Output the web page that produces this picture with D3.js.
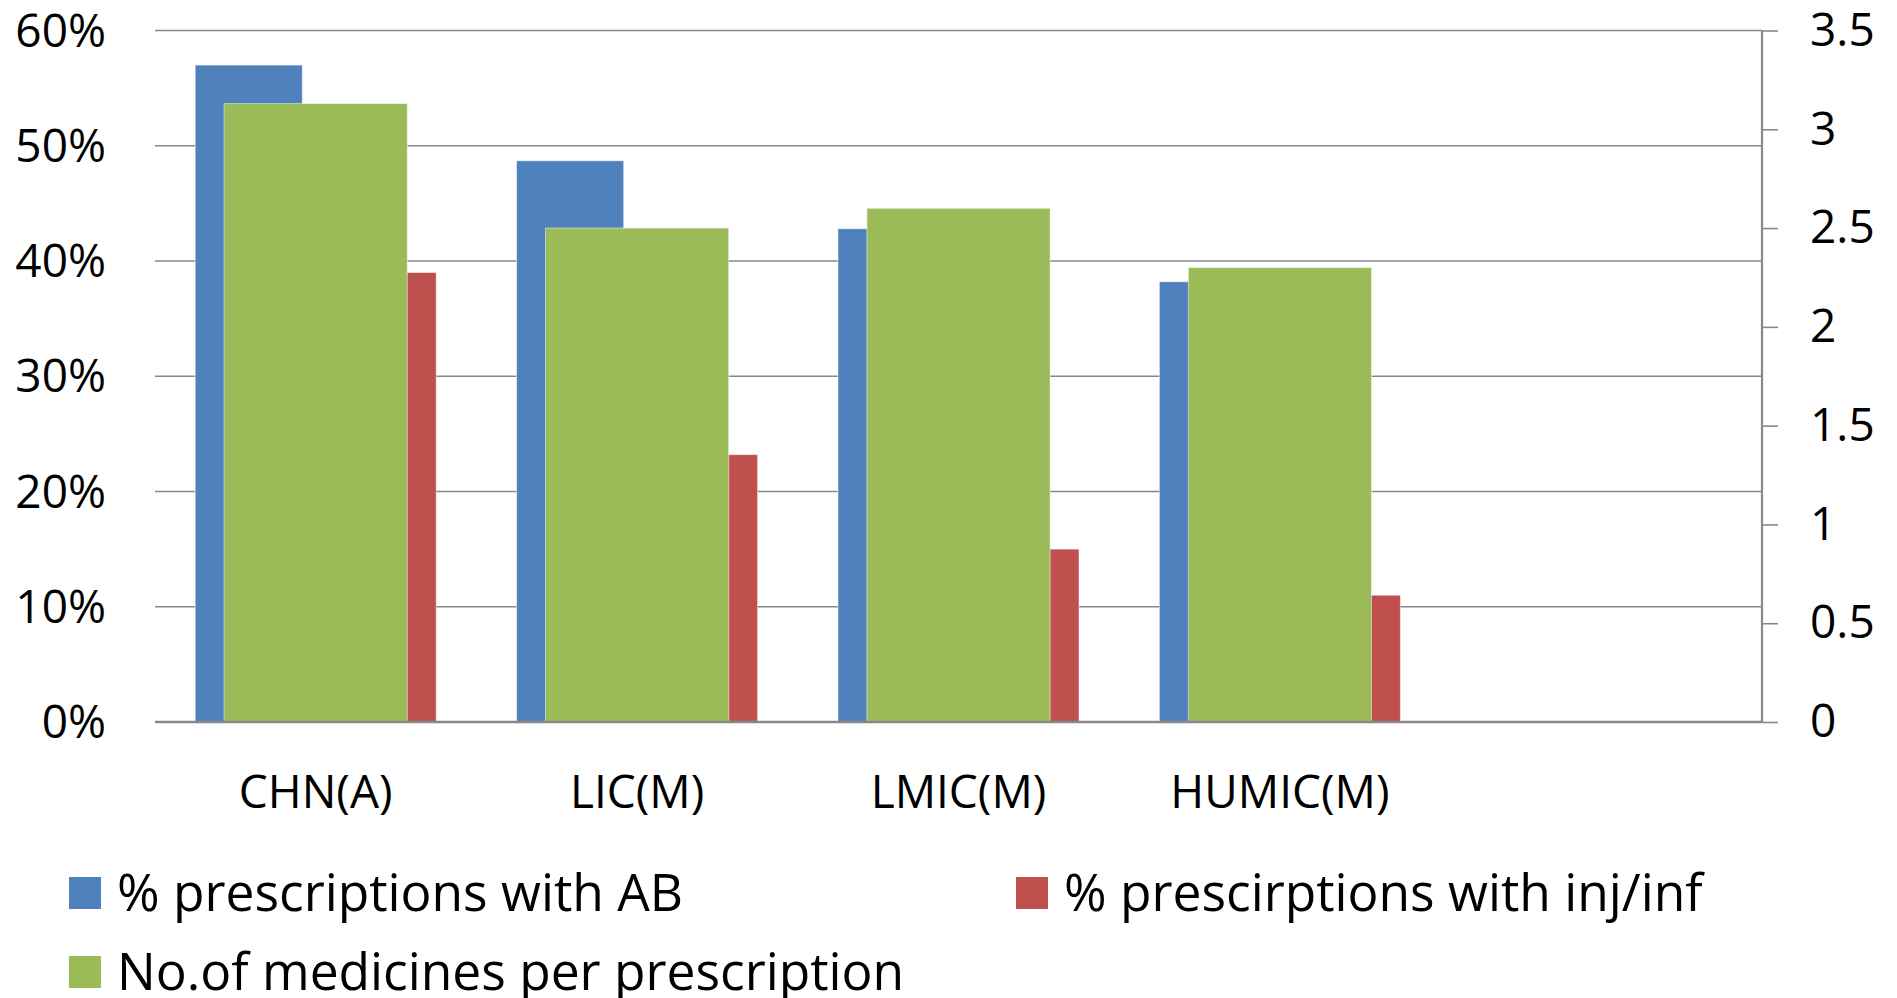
<!DOCTYPE html>
<html>
<head>
<meta charset="utf-8">
<script src="https://cdn.jsdelivr.net/npm/d3@7"></script>
<style>
    body { margin: 0; background: #ffffff; }
    text { font-family: "Open Sans", sans-serif; fill: #000000; }
</style>
</head>
<body>
<svg id="chart"></svg>
<script>
// 数据
let categories = ['CHN(A)', 'LIC(M)', 'LMIC(M)', 'HUMIC(M)', ''];
let pctAB = [57.0, 48.7, 42.8, 38.2];
let pctInj = [39.0, 23.2, 15.0, 11.0];
let medsPerRx = [3.13, 2.50, 2.60, 2.30];
let leftTicks = [0, 10, 20, 30, 40, 50, 60];
let rightTicks = [0, 0.5, 1, 1.5, 2, 2.5, 3, 3.5];
let seriesNames = ['% prescriptions with AB', '% prescirptions with inj/inf', 'No.of medicines per prescription'];

let colorDict = {
    ab: '#4F81BD',
    inj: '#C0504D',
    meds: '#9BBB59'
};

function draw_chart() {
    let width = 1897,
        height = 998;
    let plot = {left: 155, right: 1762, top: 30.5, bottom: 722};
    let fontSize = 46,
        legendFontSize = 51.5;

    let svg = d3.select('#chart')
        .attr('width', width)
        .attr('height', height);

    // 比例尺
    let x = d3.scaleBand()
        .domain(categories.map((d, i) => i))
        .range([plot.left, plot.right])
        .padding(0);
    // 主轴两个系列
    let xSub = d3.scaleBand()
        .domain(['ab', 'inj'])
        .range([0, x.bandwidth()])
        .paddingInner(0.2)
        .paddingOuter(0.3);
    // 次轴系列
    let xMeds = d3.scaleBand()
        .domain(categories.map((d, i) => i))
        .range([plot.left, plot.right])
        .paddingInner(0.43)
        .paddingOuter(0.215);

    let yLeft = d3.scaleLinear()
        .domain([0, 60])
        .range([plot.bottom, plot.top]);
    let yRight = d3.scaleLinear()
        .domain([0, 3.5])
        .range([plot.bottom, plot.top]);

    // 网格线
    svg.append('g')
        .selectAll('line')
        .data(leftTicks.filter(d => d > 0))
        .enter()
        .append('line')
        .attr('x1', plot.left)
        .attr('x2', plot.right)
        .attr('y1', d => yLeft(d))
        .attr('y2', d => yLeft(d))
        .style('stroke', '#888888')
        .style('stroke-width', 1.6);

    // 左轴标签
    svg.append('g')
        .selectAll('text')
        .data(leftTicks)
        .enter()
        .append('text')
        .attr('x', 106)
        .attr('y', d => yLeft(d))
        .attr('dy', '0.35em')
        .style('text-anchor', 'end')
        .style('font-size', fontSize + 'px')
        .text(d => d + '%');

    // 主轴柱子
    let primary = [
        {key: 'ab', values: pctAB},
        {key: 'inj', values: pctInj}
    ];
    primary.forEach(function (s) {
        svg.append('g')
            .selectAll('rect')
            .data(s.values)
            .enter()
            .append('rect')
            .attr('x', (d, i) => x(i) + xSub(s.key))
            .attr('y', d => yLeft(d))
            .attr('width', xSub.bandwidth())
            .attr('height', d => yLeft(0) - yLeft(d))
            .attr('fill', colorDict[s.key])
            .style('stroke', '#ffffff')
            .style('stroke-opacity', 0.5)
            .style('stroke-width', 1);
    });

    // 次轴柱子
    svg.append('g')
        .selectAll('rect')
        .data(medsPerRx)
        .enter()
        .append('rect')
        .attr('x', (d, i) => xMeds(i))
        .attr('y', d => yRight(d))
        .attr('width', xMeds.bandwidth())
        .attr('height', d => yRight(0) - yRight(d))
        .attr('fill', colorDict.meds)
        .style('stroke', '#ffffff')
        .style('stroke-opacity', 0.5)
        .style('stroke-width', 1);

    // 横轴线
    svg.append('line')
        .attr('x1', plot.left)
        .attr('x2', plot.right)
        .attr('y1', plot.bottom)
        .attr('y2', plot.bottom)
        .style('stroke', '#888888')
        .style('stroke-width', 2.4);

    // 右轴
    let rightAxis = d3.axisRight(yRight)
        .tickValues(rightTicks)
        .tickSize(16)
        .tickPadding(32)
        .tickFormat(d => d);
    let gRight = svg.append('g')
        .attr('transform', 'translate(' + plot.right + ',0)')
        .call(rightAxis);
    gRight.select('.domain')
        .attr('d', 'M0,' + plot.top + 'V' + plot.bottom)
        .style('stroke', '#888888')
        .style('stroke-width', 2.2);
    gRight.selectAll('.tick line')
        .style('stroke', '#888888')
        .style('stroke-width', 1.6);
    gRight.selectAll('.tick text')
        .attr('fill', '#000000')
        .style('font-family', '"Open Sans", sans-serif')
        .style('font-size', fontSize + 'px');

    // 类别标签
    svg.append('g')
        .selectAll('text')
        .data(categories)
        .enter()
        .append('text')
        .attr('x', (d, i) => x(i) + x.bandwidth() / 2)
        .attr('y', 808)
        .style('text-anchor', 'middle')
        .style('font-size', fontSize + 'px')
        .text(d => d);

    // 图例
    let legendItems = [
        {name: seriesNames[0], color: colorDict.ab, x: 69, y: 877},
        {name: seriesNames[1], color: colorDict.inj, x: 1016, y: 877},
        {name: seriesNames[2], color: colorDict.meds, x: 69, y: 956}
    ];
    let gLegend = svg.append('g');
    gLegend.selectAll('rect')
        .data(legendItems)
        .enter()
        .append('rect')
        .attr('x', d => d.x)
        .attr('y', d => d.y)
        .attr('width', 32)
        .attr('height', 32)
        .attr('fill', d => d.color);
    gLegend.selectAll('text')
        .data(legendItems)
        .enter()
        .append('text')
        .attr('x', d => d.x + 48)
        .attr('y', d => d.y + 16)
        .attr('dy', '0.35em')
        .style('font-size', legendFontSize + 'px')
        .text(d => d.name);
}

draw_chart();
</script>
</body>
</html>
